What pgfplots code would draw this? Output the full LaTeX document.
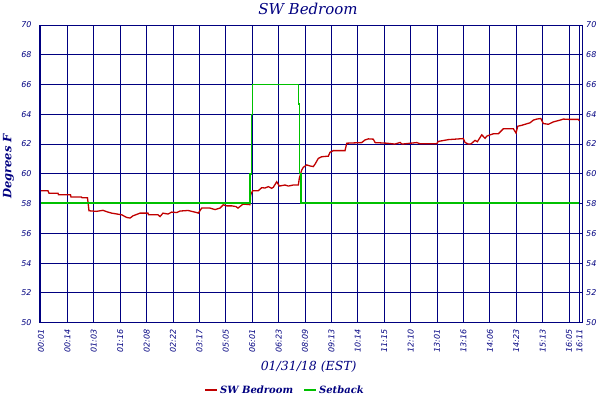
\documentclass[border=0pt]{standalone}
\usepackage{fontspec}
\setmainfont{DejaVu Serif}
\newfontfamily\tickfont{DejaVu Sans}
\usepackage{pgfplots}
\pgfplotsset{compat=1.18}
\definecolor{navy}{RGB}{0,0,128}
\definecolor{tred}{RGB}{192,0,0}
\definecolor{tgreen}{RGB}{0,192,0}

\pgfplotsset{
  common/.style={
    at={(0pt,0pt)}, anchor=south west,
    scale only axis, width=542.7pt, height=297.7pt,
    xmin=-0.064, xmax=20.49, ymin=50, ymax=70,
    ytick={50,52,...,70},
    tick style={draw=none},
    axis line style={navy, line width=1pt},
    ticklabel style={font=\tickfont\itshape\fontsize{8}{9}\selectfont, text=navy},
    /pgf/number format/assume math mode=true,
  },
}

\begin{document}
\begin{tikzpicture}
  \begin{axis}[common,
      set layers=standard,
      clip=false,
      xtick={0,1,...,20,20.39},
      xticklabels={00:01,00:14,01:03,01:16,02:08,02:22,03:17,05:05,06:01,06:23,08:09,09:13,10:14,11:15,12:10,13:01,13:16,14:06,14:23,15:13,16:05,16:11},
      xticklabel style={rotate=90, anchor=east},
      xticklabel shift=3.3pt,
      yticklabel shift=4.3pt,
      grid=major,
      major grid style={navy, line width=1pt},
      xlabel={01/31/18 (EST)},
      xlabel style={at={(axis description cs:0.4964,-0.1488)}, anchor=center,
        font=\itshape\fontsize{12.5}{15}\selectfont, text=navy},
      ylabel={Degrees F},
      ylabel style={at={(axis description cs:-0.0568,0.5245)}, anchor=center,
        font=\bfseries\itshape\fontsize{11.5}{14}\selectfont, text=navy},
      legend style={at={(axis description cs:0.4527,-0.226)}, anchor=center,
        draw=none, fill=none, legend columns=2,
        font=\bfseries\itshape\fontsize{10}{12}\selectfont, text=navy,
        /tikz/every even column/.append style={column sep=8pt}},
      legend image code/.code={\draw[#1, line width=2pt] (0pt,0pt) -- (12pt,0pt);},
    ]
    \addplot[tred, line width=1.3pt] coordinates {
      (0,58.86) (0.265,58.86) (0.303,58.7) (0.644,58.7) (0.663,58.6) (1.117,58.6)
      (1.136,58.44) (1.534,58.44) (1.553,58.4) (1.761,58.4) (1.818,57.52) (2.1,57.48)
      (2.348,57.55) (2.5,57.45) (2.678,57.36) (3.057,57.25) (3.246,57.07) (3.371,57.03)
      (3.485,57.18) (3.75,57.36) (4.053,57.36) (4.072,57.25) (4.432,57.25) (4.508,57.13)
      (4.621,57.36) (4.811,57.3) (4.951,57.43) (5.14,57.4) (5.265,57.5) (5.568,57.54)
      (5.898,57.4) (5.958,57.36) (6.087,57.7) (6.402,57.7) (6.591,57.6) (6.78,57.7)
      (6.905,57.92) (7.034,57.85) (7.223,57.85) (7.386,57.8) (7.462,57.7) (7.652,57.97)
      (7.917,57.93) (7.943,58.6) (8.019,58.87) (8.231,58.87) (8.36,59.07) (8.485,59.05)
      (8.61,59.14) (8.739,59.03) (8.8,59.1) (8.928,59.47) (9.027,59.18) (9.242,59.25)
      (9.367,59.18) (9.557,59.25) (9.746,59.25) (9.784,59.7) (9.875,60.26) (9.936,60.44)
      (10.064,60.6) (10.189,60.53) (10.314,60.49) (10.379,60.65) (10.504,61.04) (10.633,61.15)
      (10.883,61.19) (10.947,61.45) (11.072,61.56) (11.515,61.56) (11.58,62.06) (12.148,62.1)
      (12.273,62.28) (12.398,62.35) (12.587,62.33) (12.652,62.1) (13.095,62.06) (13.409,62.0)
      (13.598,62.11) (13.674,62.0) (14.231,62.1) (14.356,62.02) (14.989,62.02) (15.049,62.18)
      (15.367,62.28) (15.428,62.3) (15.996,62.37) (16.061,62.11) (16.186,62.0) (16.277,62.0)
      (16.439,62.25) (16.527,62.16) (16.693,62.62) (16.818,62.39) (16.883,62.53) (17.008,62.62)
      (17.133,62.69) (17.322,62.69) (17.511,63.03) (17.89,63.03) (17.992,62.74) (18.057,63.2)
      (18.208,63.26) (18.333,63.33) (18.523,63.43) (18.648,63.61) (18.777,63.68) (18.928,63.72)
      (19.027,63.38) (19.216,63.33) (19.405,63.49) (19.659,63.61) (19.784,63.68) (19.973,63.66)
      (20.352,63.66) (20.39,63.56)
    };
    \addlegendentry{SW Bedroom}
    \addplot[tgreen, line width=1.4pt] coordinates {
      (0,58.03) (7.917,58.03) (7.917,60) (7.98,60) (7.98,64) (8.02,64) (8.02,66)
      (9.75,66) (9.75,64.7) (9.78,64.7) (9.78,60.04) (9.85,60.04) (9.85,58.03) (20.39,58.03)
    };
    \addlegendentry{Setback}
    \node[anchor=base, text=navy, font=\itshape\fontsize{15}{18}\selectfont]
      at (axis description cs:0.4951,1.0336) {SW Bedroom};
  \end{axis}
  \begin{axis}[common,
      axis x line=none,
      axis y line*=right,
      yticklabel shift=0.7pt,
    ]
    \addplot[draw=none] coordinates {(0,50)};
  \end{axis}
  \pgfresetboundingbox
  \path (-39.3pt,-77.3pt) rectangle (560.7pt,322.7pt);
\end{tikzpicture}
\end{document}
